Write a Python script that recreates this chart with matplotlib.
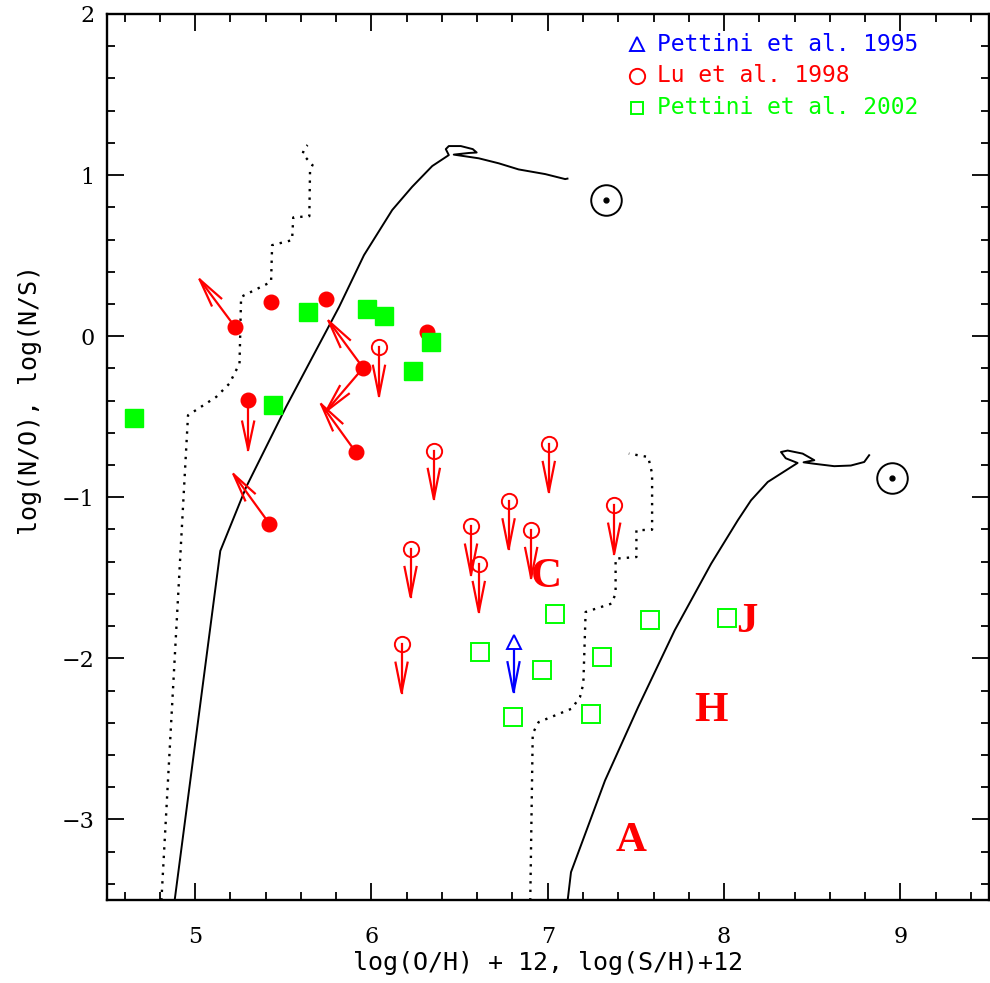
import matplotlib
matplotlib.use("Agg")
import matplotlib.pyplot as plt
import numpy as np
from matplotlib.ticker import MultipleLocator

RED = "#FF0000"
GREEN = "#00FF00"
BLUE = "#0000FF"

# Lu et al. 1998 detections (filled) and the arrows attached to them
lu_x = [5.229, 5.431, 5.742, 6.315, 5.953, 5.301, 5.421, 5.911]
lu_y = [0.054, 0.211, 0.232, 0.023, -0.197, -0.397, -1.163, -0.719]
lu_arrow_idx = [0, 4, 4, 5, 6, 7]
lu_arrow_tx = [5.026, 5.757, 5.743, 5.301, 5.218, 5.715]
lu_arrow_ty = [0.352, 0.095, -0.466, -0.704, -0.857, -0.422]

# Lu et al. 1998 upper limits (open circles)
lu_ul_x = [6.043, 6.354, 7.006, 6.778, 7.377, 6.565, 6.906, 6.609, 6.222, 6.171]
lu_ul_y = [-0.070, -0.710, -0.667, -1.023, -1.050, -1.180, -1.201, -1.412, -1.319, -1.913]
ul_len = 0.30

# Pettini et al. 1995
p95_x = [6.806]
p95_y = [-1.90]
p95_low = [-2.21]

# Pettini et al. 2002
p02f_x = [4.656, 5.640, 5.975, 6.073, 6.337, 6.235, 5.444]
p02f_y = [-0.507, 0.149, 0.170, 0.124, -0.037, -0.215, -0.429]
p02o_x = [7.044, 6.614, 6.965, 6.805, 7.306, 7.247, 7.579, 8.018]
p02o_y = [-1.722, -1.961, -2.073, -2.362, -1.994, -2.344, -1.760, -1.752]

# solar values
sun_x = [7.332, 8.955]
sun_y = [0.845, -0.882]

# region letters
let_txt = ["C", "J", "H", "A"]
let_x = [6.995, 8.129, 7.924, 7.475]
let_y = [-1.495, -1.775, -2.327, -3.131]

# model tracks (solid) for N/O and N/S
no_x = [4.884, 5.143, 5.290, 5.516, 5.666, 5.817, 5.958, 6.118, 6.231, 6.345,
        6.439, 6.422, 6.439, 6.507, 6.575, 6.597, 6.552, 6.467, 6.609, 6.722,
        6.835, 6.986, 7.099, 7.112]
no_y = [-3.503, -1.333, -0.936, -0.439, -0.129, 0.182, 0.503, 0.783, 0.927, 1.056,
        1.124, 1.161, 1.180, 1.180, 1.161, 1.140, 1.137, 1.127, 1.104, 1.073,
        1.035, 1.006, 0.975, 0.978]
ns_x = [7.113, 7.132, 7.325, 7.513, 7.720, 7.927, 8.078, 8.153, 8.248, 8.417,
        8.350, 8.323, 8.361, 8.446, 8.512, 8.451, 8.512, 8.625, 8.719, 8.795, 8.823]
ns_y = [-3.503, -3.327, -2.758, -2.302, -1.826, -1.412, -1.143, -1.019, -0.905, -0.787,
        -0.758, -0.719, -0.710, -0.729, -0.770, -0.783, -0.792, -0.807, -0.803, -0.781, -0.739]

# model tracks (dotted)
no_d_x = [4.809, 4.960, 5.120, 5.195, 5.252, 5.261, 5.431, 5.437, 5.550, 5.557,
          5.648, 5.652, 5.666, 5.610, 5.619, 5.638]
no_d_y = [-3.503, -0.491, -0.377, -0.294, -0.170, 0.244, 0.337, 0.565, 0.596, 0.737,
          0.745, 1.031, 1.062, 1.130, 1.166, 1.186]
ns_d_x = [6.901, 6.915, 6.948, 7.042, 7.136, 7.183, 7.202, 7.215, 7.362, 7.385,
          7.385, 7.503, 7.503, 7.592, 7.592, 7.570, 7.460]
ns_d_y = [-3.503, -2.466, -2.396, -2.354, -2.312, -2.240, -2.157, -1.712, -1.660, -1.598,
          -1.381, -1.371, -1.205, -1.201, -0.853, -0.750, -0.729]

LEG_FONT = "DejaVu Sans Mono"
TICK_FONT = "DejaVu Serif"

fig = plt.figure(figsize=(9.9, 9.83), dpi=100)
ax = fig.add_axes([0.108, 0.0844, 0.8905, 0.9014])
ax.set_xlim(4.5, 9.5)
ax.set_ylim(-3.5, 2)


def arrow(x0, y0, x1, y1, color, head=30.0, half=6.0):
    # shaft plus two open barbs, head size in pixels
    p0 = ax.transData.transform((x0, y0))
    p1 = ax.transData.transform((x1, y1))
    u = (p1 - p0) / np.hypot(*(p1 - p0))
    n = np.array([-u[1], u[0]])
    inv = ax.transData.inverted()
    b1 = inv.transform(p1 - head * u + half * n)
    b2 = inv.transform(p1 - head * u - half * n)
    ax.plot([x0, x1], [y0, y1], color=color, lw=1.6, zorder=3)
    ax.plot([b1[0], x1, b2[0]], [b1[1], y1, b2[1]], color=color, lw=1.6,
            zorder=3, solid_joinstyle="miter")


ax.plot(no_x, no_y, color="black", lw=1.4, zorder=2)
ax.plot(ns_x, ns_y, color="black", lw=1.4, zorder=2)
ax.plot(no_d_x, no_d_y, color="black", lw=1.7, ls=(0, (1, 2.6)), zorder=2)
ax.plot(ns_d_x, ns_d_y, color="black", lw=1.7, ls=(0, (1, 2.6)), zorder=2)

# Lu filled points with arrows
for i, tx, ty in zip(lu_arrow_idx, lu_arrow_tx, lu_arrow_ty):
    arrow(lu_x[i], lu_y[i], tx, ty, RED, head=28)
ax.plot(lu_x, lu_y, "o", color=RED, ms=10.5, mec=RED, zorder=4)

# Lu upper limits
for x, y in zip(lu_ul_x, lu_ul_y):
    arrow(x, y, x, y - ul_len, RED)
ax.plot(lu_ul_x, lu_ul_y, "o", mfc="none", mec=RED, mew=1.4, ms=11, zorder=4)

# Pettini 1995
for x, y, yl in zip(p95_x, p95_y, p95_low):
    arrow(x, y - 0.04, x, yl, BLUE)
ax.plot(p95_x, p95_y, "^", mfc="white", mec=BLUE, mew=1.4, ms=10, zorder=4)

# Pettini 2002
ax.plot(p02f_x, p02f_y, "s", color=GREEN, ms=13, mec=GREEN, zorder=4)
ax.plot(p02o_x, p02o_y, "s", mfc="none", mec=GREEN, mew=1.4, ms=13, zorder=4)

# solar symbols
ax.plot(sun_x, sun_y, "o", mfc="none", mec="black", mew=1.4, ms=22, zorder=4)
ax.plot(sun_x, sun_y, "o", color="black", ms=3.5, zorder=4)

for t, x, y in zip(let_txt, let_x, let_y):
    ax.text(x, y, t, color=RED, fontsize=31, fontweight="bold",
            family="Liberation Serif", ha="center", va="center", zorder=5)

# legend drawn as text
leg_lab = ["Pettini et al. 1995", "Lu et al. 1998", "Pettini et al. 2002"]
leg_col = [BLUE, RED, GREEN]
leg_mk = ["^", "o", "s"]
leg_ms = [9.5, 11, 9]
leg_y = [0.966, 0.930, 0.894]
for lab, c, m, s, y in zip(leg_lab, leg_col, leg_mk, leg_ms, leg_y):
    ax.plot([0.601], [y], m, mfc="none", mec=c, mew=1.4, ms=s,
            transform=ax.transAxes, clip_on=False)
    ax.text(0.624, y, lab, color=c, fontsize=16.5, family=LEG_FONT,
            transform=ax.transAxes, ha="left", va="center")

ax.xaxis.set_major_locator(MultipleLocator(1))
ax.xaxis.set_minor_locator(MultipleLocator(0.2))
ax.yaxis.set_major_locator(MultipleLocator(1))
ax.yaxis.set_minor_locator(MultipleLocator(0.2))
ax.tick_params(which="both", direction="in", top=True, right=True, width=1.3,
               color="black")
ax.tick_params(which="major", length=12)
ax.tick_params(which="minor", length=6)
ax.tick_params(axis="x", which="major", pad=19)
ax.tick_params(axis="y", which="major", pad=9)
for sp in ax.spines.values():
    sp.set_linewidth(1.7)
for lab in ax.get_xticklabels() + ax.get_yticklabels():
    lab.set_family(TICK_FONT)
    lab.set_fontsize(16)

ax.set_xlabel("log(O/H) + 12, log(S/H)+12", family=LEG_FONT, fontsize=18,
              labelpad=2)
fig.text(0.03, 0.593, "log(N/O), log(N/S)", family=LEG_FONT, fontsize=18,
         rotation=90, ha="center", va="center")

fig.savefig("out.png", dpi=100)
